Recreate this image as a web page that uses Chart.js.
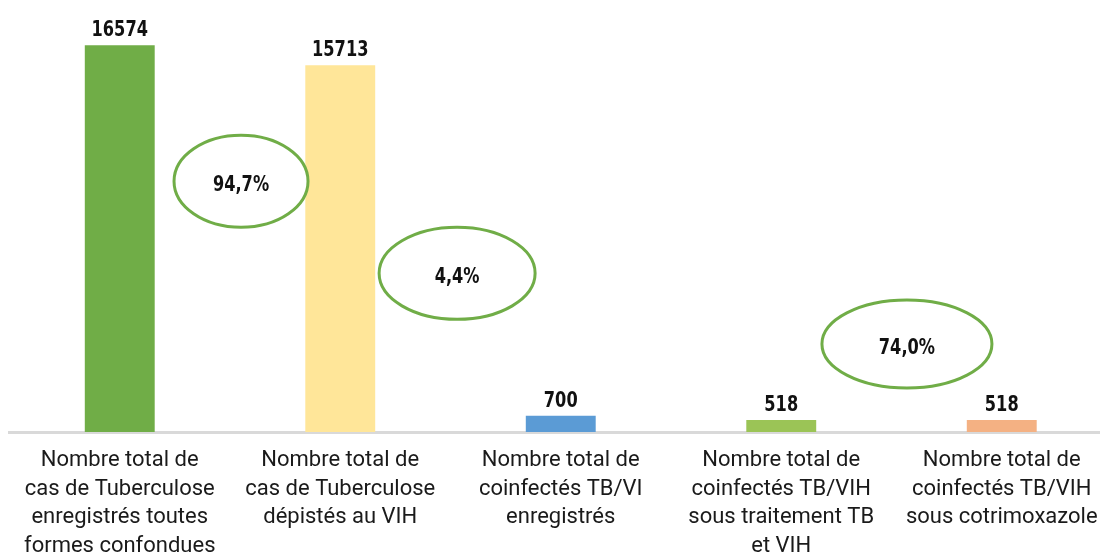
<!DOCTYPE html>
<html>
<head>
<meta charset="utf-8">
<script src="https://cdn.jsdelivr.net/npm/chart.js@4/dist/chart.umd.min.js"></script>
<style>
  html, body { margin: 0; padding: 0; background: #fff; overflow: hidden; }
  #wrap { width: 1112px; height: 552px; }
</style>
</head>
<body>
<div id="wrap"><canvas id="chart"></canvas></div>
<script>
// données
const categories = [
  ['Nombre total de', 'cas de Tuberculose', 'enregistrés toutes', 'formes confondues'],
  ['Nombre total de', 'cas de Tuberculose', 'dépistés au VIH'],
  ['Nombre total de', 'coinfectés TB/VI', 'enregistrés'],
  ['Nombre total de', 'coinfectés TB/VIH', 'sous traitement TB', 'et VIH'],
  ['Nombre total de', 'coinfectés TB/VIH', 'sous cotrimoxazole']
];
const values = [16574, 15713, 700, 518, 518];
const barColors = ['#70AD47', '#FFE699', '#5B9BD5', '#9BC456', '#F4B183'];

// pourcentages entourés (x en unités de catégorie, y en unités de valeur)
const ratios = ['94,7%', '4,4%', '74,0%'];
const ratioPos = [
  { x: 0.55, y: 10750, rx: 67, ry: 46 },
  { x: 1.53, y: 6800, rx: 78, ry: 46 },
  { x: 3.57, y: 3770, rx: 85, ry: 44 }
];

const boldFont = 'bold 18px "DejaVu Sans Condensed", "DejaVu Sans", sans-serif';

// texte gras un peu étiré en hauteur, pour imiter la police étroite d'origine
function tallText(ctx, text, x, y) {
  ctx.save();
  ctx.translate(x, y);
  ctx.scale(1, 1.2);
  ctx.font = boldFont;
  ctx.fillStyle = '#111';
  ctx.textAlign = 'center';
  ctx.textBaseline = 'alphabetic';
  ctx.fillText(text, 0, 0);
  ctx.restore();
}

const valueLabels = {
  id: 'valueLabels',
  afterDatasetsDraw(chart) {
    const meta = chart.getDatasetMeta(0);
    meta.data.forEach((bar, i) => {
      tallText(chart.ctx, String(values[i]), bar.x, bar.y - 9);
    });
  }
};

const ellipses = {
  id: 'ellipses',
  afterDatasetsDraw(chart) {
    const ctx = chart.ctx;
    const xs = chart.scales.x, ys = chart.scales.y;
    const step = xs.getPixelForValue(1) - xs.getPixelForValue(0);
    ratioPos.forEach((p, i) => {
      const cx = xs.getPixelForValue(0) + p.x * step;
      const cy = ys.getPixelForValue(p.y);
      ctx.save();
      ctx.beginPath();
      ctx.ellipse(cx, cy, p.rx, p.ry, 0, 0, Math.PI * 2);
      ctx.fillStyle = '#fff';
      ctx.fill();
      ctx.lineWidth = 3;
      ctx.strokeStyle = '#70AD47';
      ctx.stroke();
      ctx.restore();
      tallText(ctx, ratios[i], cx, cy + 10);
    });
  }
};

new Chart(document.getElementById('chart'), {
  type: 'bar',
  data: {
    labels: categories,
    datasets: [{
      data: values,
      backgroundColor: barColors,
      barPercentage: 1,
      categoryPercentage: 0.317
    }]
  },
  options: {
    responsive: true,
    maintainAspectRatio: false,
    animation: false,
    layout: { padding: { top: 12, left: 9.5, right: 0, bottom: 0 } },
    plugins: { legend: { display: false }, tooltip: { enabled: false } },
    scales: {
      x: {
        grid: { display: false, drawTicks: false },
        border: { display: true, color: '#D9D9D9', width: 3 },
        ticks: {
          color: '#1a1a1a',
          padding: 14,
          maxRotation: 0,
          autoSkip: false,
          font: { family: 'Roboto', size: 22, lineHeight: 1.305 }
        },
        afterFit(scale) { scale.height = 120; }
      },
      y: {
        display: false,
        min: 0,
        max: 18000
      }
    }
  },
  plugins: [valueLabels, ellipses]
});
</script>
</body>
</html>
